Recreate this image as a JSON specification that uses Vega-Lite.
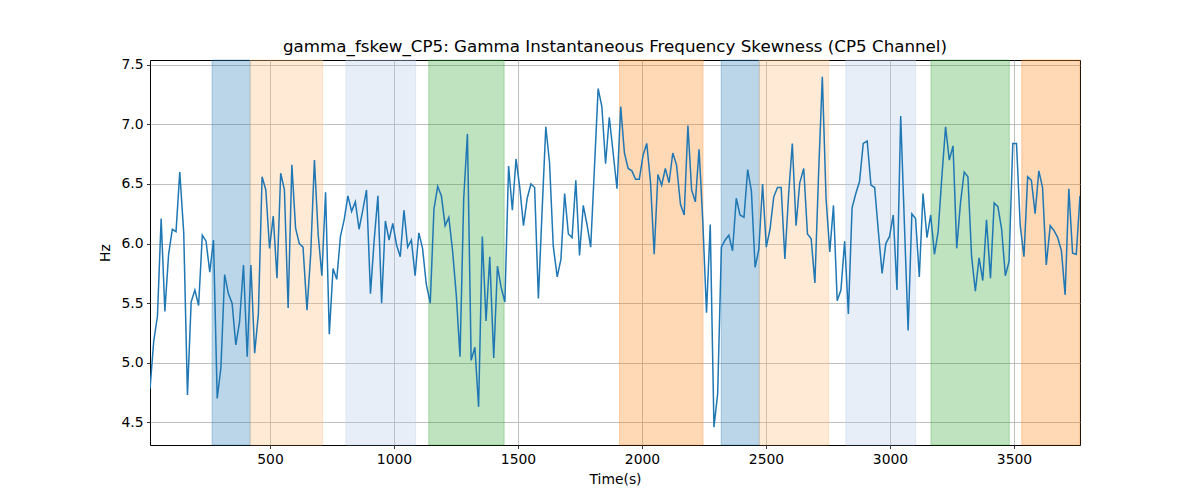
{
  "$schema": "https://vega.github.io/schema/vega-lite/v6.json",
  "width": 930,
  "height": 385,
  "autosize": {"type": "none"},
  "padding": {"left": 150, "top": 60, "right": 120, "bottom": 55},
  "background": "white",
  "title": {"text": "gamma_fskew_CP5: Gamma Instantaneous Frequency Skewness (CP5 Channel)", "font": "DejaVu Sans", "fontSize": 16.7, "fontWeight": "normal", "color": "black", "anchor": "middle", "offset": 2},
  "config": {
    "view": {"stroke": "black", "strokeWidth": 1},
    "axis": {"labelFont": "DejaVu Sans", "labelFontSize": 13.9, "labelColor": "black", "titleFont": "DejaVu Sans", "titleFontSize": 13.9, "titleFontWeight": "normal", "titleColor": "black", "tickColor": "black", "tickSize": 3.5, "tickWidth": 0.8, "domain": false, "gridColor": "#b0b0b0", "gridWidth": 0.8, "labelPadding": 3.5, "grid": true, "labelFlush": false}
  },
  "datasets": {
    "bands": [
      {"start": 266, "end": 420, "phase": "p1"},
      {"start": 420, "end": 712, "phase": "p2"},
      {"start": 806, "end": 1087, "phase": "p3"},
      {"start": 1140, "end": 1444, "phase": "p4"},
      {"start": 1909, "end": 2246, "phase": "p5"},
      {"start": 2319, "end": 2473, "phase": "p1"},
      {"start": 2473, "end": 2753, "phase": "p2"},
      {"start": 2822, "end": 3103, "phase": "p3"},
      {"start": 3165, "end": 3481, "phase": "p4"},
      {"start": 3531, "end": 3766, "phase": "p5"}
    ],
    "series": [
      {"t":16,"v":4.78},{"t":31,"v":5.18},{"t":46,"v":5.39},{"t":61,"v":6.21},{"t":76,"v":5.43},{"t":91,"v":5.91},{"t":106,"v":6.12},{"t":121,"v":6.10},{"t":136,"v":6.60},{"t":152,"v":6.09},
      {"t":167,"v":4.73},{"t":182,"v":5.51},{"t":197,"v":5.61},{"t":212,"v":5.48},{"t":227,"v":6.07},{"t":242,"v":6.02},{"t":257,"v":5.76},{"t":272,"v":6.03},{"t":287,"v":4.70},{"t":302,"v":4.96},
      {"t":317,"v":5.74},{"t":332,"v":5.58},{"t":347,"v":5.50},{"t":362,"v":5.15},{"t":377,"v":5.34},{"t":393,"v":5.82},{"t":408,"v":5.05},{"t":423,"v":5.82},{"t":438,"v":5.08},{"t":453,"v":5.41},
      {"t":468,"v":6.56},{"t":483,"v":6.45},{"t":498,"v":5.96},{"t":513,"v":6.23},{"t":528,"v":5.71},{"t":543,"v":6.59},{"t":558,"v":6.45},{"t":573,"v":5.46},{"t":588,"v":6.66},{"t":603,"v":6.13},
      {"t":618,"v":6.00},{"t":633,"v":5.97},{"t":649,"v":5.44},{"t":664,"v":5.91},{"t":679,"v":6.70},{"t":694,"v":6.08},{"t":709,"v":5.73},{"t":724,"v":6.43},{"t":739,"v":5.24},{"t":754,"v":5.79},
      {"t":769,"v":5.70},{"t":784,"v":6.06},{"t":799,"v":6.20},{"t":814,"v":6.40},{"t":829,"v":6.27},{"t":844,"v":6.35},{"t":859,"v":6.12},{"t":874,"v":6.28},{"t":889,"v":6.45},{"t":905,"v":5.58},
      {"t":920,"v":6.03},{"t":935,"v":6.40},{"t":950,"v":5.50},{"t":965,"v":6.19},{"t":980,"v":6.03},{"t":995,"v":6.17},{"t":1010,"v":5.99},{"t":1025,"v":5.89},{"t":1040,"v":6.28},{"t":1055,"v":5.97},
      {"t":1070,"v":6.03},{"t":1085,"v":5.73},{"t":1100,"v":6.09},{"t":1115,"v":5.96},{"t":1130,"v":5.66},{"t":1146,"v":5.50},{"t":1161,"v":6.29},{"t":1176,"v":6.48},{"t":1191,"v":6.40},{"t":1206,"v":6.15},
      {"t":1221,"v":6.22},{"t":1236,"v":5.94},{"t":1251,"v":5.57},{"t":1266,"v":5.05},{"t":1281,"v":6.38},{"t":1296,"v":6.92},{"t":1311,"v":5.02},{"t":1326,"v":5.13},{"t":1341,"v":4.63},{"t":1356,"v":6.06},
      {"t":1371,"v":5.35},{"t":1386,"v":5.89},{"t":1402,"v":5.04},{"t":1417,"v":5.81},{"t":1432,"v":5.63},{"t":1447,"v":5.51},{"t":1462,"v":6.65},{"t":1477,"v":6.28},{"t":1492,"v":6.71},{"t":1507,"v":6.47},
      {"t":1522,"v":6.15},{"t":1537,"v":6.38},{"t":1552,"v":6.50},{"t":1567,"v":6.47},{"t":1582,"v":5.54},{"t":1597,"v":6.27},{"t":1612,"v":6.98},{"t":1627,"v":6.68},{"t":1642,"v":5.98},{"t":1658,"v":5.72},
      {"t":1673,"v":5.87},{"t":1688,"v":6.42},{"t":1703,"v":6.08},{"t":1718,"v":6.05},{"t":1733,"v":6.53},{"t":1748,"v":5.90},{"t":1763,"v":6.32},{"t":1778,"v":6.16},{"t":1793,"v":5.97},{"t":1808,"v":6.63},
      {"t":1823,"v":7.30},{"t":1838,"v":7.15},{"t":1853,"v":6.67},{"t":1868,"v":7.06},{"t":1883,"v":6.77},{"t":1899,"v":6.46},{"t":1914,"v":7.15},{"t":1929,"v":6.76},{"t":1944,"v":6.63},{"t":1959,"v":6.61},
      {"t":1974,"v":6.54},{"t":1989,"v":6.54},{"t":2004,"v":6.74},{"t":2019,"v":6.84},{"t":2034,"v":6.52},{"t":2049,"v":5.91},{"t":2064,"v":6.58},{"t":2079,"v":6.49},{"t":2094,"v":6.63},{"t":2109,"v":6.51},
      {"t":2124,"v":6.76},{"t":2139,"v":6.66},{"t":2155,"v":6.33},{"t":2170,"v":6.24},{"t":2185,"v":6.99},{"t":2200,"v":6.45},{"t":2215,"v":6.35},{"t":2230,"v":6.79},{"t":2245,"v":6.19},{"t":2260,"v":5.42},
      {"t":2275,"v":6.16},{"t":2290,"v":4.46},{"t":2305,"v":4.74},{"t":2320,"v":5.97},{"t":2335,"v":6.03},{"t":2350,"v":6.07},{"t":2365,"v":5.94},{"t":2380,"v":6.38},{"t":2395,"v":6.24},{"t":2411,"v":6.22},
      {"t":2426,"v":6.62},{"t":2441,"v":6.44},{"t":2456,"v":5.80},{"t":2471,"v":5.95},{"t":2486,"v":6.50},{"t":2501,"v":5.97},{"t":2516,"v":6.12},{"t":2531,"v":6.39},{"t":2546,"v":6.47},{"t":2561,"v":6.47},
      {"t":2576,"v":5.87},{"t":2591,"v":6.41},{"t":2606,"v":6.84},{"t":2621,"v":6.15},{"t":2636,"v":6.51},{"t":2652,"v":6.63},{"t":2667,"v":6.08},{"t":2682,"v":6.04},{"t":2697,"v":5.67},{"t":2712,"v":6.59},
      {"t":2727,"v":7.40},{"t":2742,"v":6.38},{"t":2757,"v":5.93},{"t":2772,"v":6.32},{"t":2787,"v":5.52},{"t":2802,"v":5.61},{"t":2817,"v":6.02},{"t":2832,"v":5.41},{"t":2847,"v":6.30},{"t":2862,"v":6.42},
      {"t":2877,"v":6.52},{"t":2892,"v":6.84},{"t":2908,"v":6.86},{"t":2923,"v":6.49},{"t":2938,"v":6.47},{"t":2953,"v":6.10},{"t":2968,"v":5.75},{"t":2983,"v":6.00},{"t":2998,"v":6.06},{"t":3013,"v":6.24},
      {"t":3028,"v":5.61},{"t":3043,"v":7.07},{"t":3058,"v":6.16},{"t":3073,"v":5.27},{"t":3088,"v":6.25},{"t":3103,"v":6.21},{"t":3118,"v":5.72},{"t":3133,"v":6.42},{"t":3149,"v":6.05},{"t":3164,"v":6.24},
      {"t":3179,"v":5.91},{"t":3194,"v":6.10},{"t":3209,"v":6.56},{"t":3224,"v":6.98},{"t":3239,"v":6.70},{"t":3254,"v":6.82},{"t":3269,"v":5.96},{"t":3284,"v":6.34},{"t":3299,"v":6.60},{"t":3314,"v":6.56},
      {"t":3329,"v":5.89},{"t":3344,"v":5.60},{"t":3359,"v":5.88},{"t":3374,"v":5.69},{"t":3389,"v":6.20},{"t":3405,"v":5.71},{"t":3420,"v":6.34},{"t":3435,"v":6.31},{"t":3450,"v":6.12},{"t":3465,"v":5.73},
      {"t":3480,"v":5.85},{"t":3495,"v":6.84},{"t":3510,"v":6.84},{"t":3525,"v":6.15},{"t":3540,"v":5.89},{"t":3555,"v":6.56},{"t":3570,"v":6.53},{"t":3585,"v":6.25},{"t":3600,"v":6.61},{"t":3615,"v":6.47},
      {"t":3630,"v":5.82},{"t":3646,"v":6.15},{"t":3661,"v":6.11},{"t":3676,"v":6.05},{"t":3691,"v":5.94},{"t":3706,"v":5.57},{"t":3721,"v":6.46},{"t":3736,"v":5.92},{"t":3751,"v":5.91},{"t":3766,"v":6.40}
    ]
  },
  "layer": [
    {
      "data": {"name": "bands"},
      "mark": {"type": "rect", "fillOpacity": 0.3, "strokeOpacity": 0.3, "strokeWidth": 1},
      "encoding": {
        "x": {"field": "start", "type": "quantitative", "scale": {"domain": [16, 3766], "nice": false, "zero": false}, "axis": {"values": [500, 1000, 1500, 2000, 2500, 3000, 3500], "format": "d", "title": "Time(s)", "titlePadding": 7}},
        "x2": {"field": "end"},
        "color": {"field": "phase", "type": "nominal", "scale": {"domain": ["p1", "p2", "p3", "p4", "p5"], "range": ["#1f77b4", "#ffbb78", "#aec7e8", "#2ca02c", "#ff7f0e"]}, "legend": null},
        "stroke": {"field": "phase", "type": "nominal", "scale": {"domain": ["p1", "p2", "p3", "p4", "p5"], "range": ["#1f77b4", "#ffbb78", "#aec7e8", "#2ca02c", "#ff7f0e"]}, "legend": null}
      }
    },
    {
      "data": {"name": "series"},
      "mark": {"type": "line", "color": "#1f77b4", "strokeWidth": 1.5, "clip": true},
      "encoding": {
        "x": {"field": "t", "type": "quantitative"},
        "y": {"field": "v", "type": "quantitative", "scale": {"domain": [4.31, 7.54], "nice": false, "zero": false}, "axis": {"values": [4.5, 5.0, 5.5, 6.0, 6.5, 7.0, 7.5], "format": ".1f", "title": "Hz", "titlePadding": 8}}
      }
    }
  ]
}
